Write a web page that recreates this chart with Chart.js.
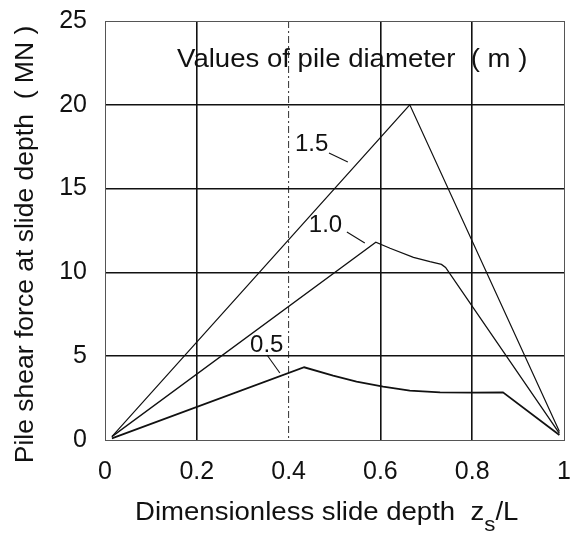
<!DOCTYPE html>
<html>
<head>
<meta charset="utf-8">
<script src="https://cdn.jsdelivr.net/npm/chart.js@4/dist/chart.umd.min.js"></script>
<style>
  html, body { margin: 0; padding: 0; background: #fff; }
  #wrap { width: 572px; height: 536px; }
</style>
</head>
<body>
<div id="wrap"><canvas id="c" width="572" height="536"></canvas></div>
<script>
// Pile diameters (m) and the shear force curves read along dimensionless slide depth
const diameters = ['1.5', '1.0', '0.5'];

const depth15 = [0.015, 0.664, 0.99];
const force15 = [0.2, 20.0, 0.5];

const depth10 = [0.015, 0.59, 0.621, 0.672, 0.708, 0.733, 0.742, 0.99];
const force10 = [0.2, 11.8, 11.44, 10.9, 10.64, 10.48, 10.3, 0.4];

const depth05 = [0.015, 0.434, 0.497, 0.548, 0.606, 0.664, 0.73, 0.80, 0.867, 0.99];
const force05 = [0.1, 4.34, 3.84, 3.48, 3.18, 2.94, 2.84, 2.83, 2.84, 0.3];

const xTicks = [0, 0.2, 0.4, 0.6, 0.8, 1];
const xTickLabels = ['0', '0.2', '0.4', '0.6', '0.8', '1'];
const yTickLabels = ['0', '5', '10', '15', '20', '25'];

const FONT = '"Liberation Sans", Arial, Helvetica, sans-serif';

function pts(xs, ys) { return xs.map((x, i) => ({ x: x, y: ys[i] })); }

// Curve labels with short leader lines, in data units
const curveLabels = [
  { text: diameters[0], at: [0.414, 17.24], lead: [[0.488, 17.12], [0.529, 16.59]] },
  { text: diameters[1], at: [0.444, 12.41], lead: [[0.527, 12.41], [0.566, 11.75]] },
  { text: diameters[2], at: [0.316, 5.25],  lead: [[0.353, 5.07],  [0.381, 4.0]] }
];

// horizontal text slightly widened, like the typeset figure
function wideText(ctx, str, x, y, sx) {
  ctx.save();
  ctx.translate(x, y);
  ctx.scale(sx, 1);
  ctx.fillText(str, 0, 0);
  ctx.restore();
  return ctx.measureText(str).width * sx;
}

const textPlugin = {
  id: 'textPlugin',
  afterDatasetsDraw(chart) {
    const { ctx, chartArea, scales } = chart;
    const xs = scales.x, ys = scales.y;
    ctx.save();
    ctx.fillStyle = '#111';
    ctx.strokeStyle = '#111';
    ctx.textAlign = 'left';
    ctx.textBaseline = 'alphabetic';

    // legend heading inside the plot
    ctx.font = '26px ' + FONT;
    wideText(ctx, 'Values of pile diameter  ( m )', xs.getPixelForValue(0.157), ys.getPixelForValue(22.26), 1.06);

    // curve labels
    ctx.font = '24px ' + FONT;
    ctx.lineWidth = 1.1;
    curveLabels.forEach(l => {
      ctx.fillText(l.text, xs.getPixelForValue(l.at[0]), ys.getPixelForValue(l.at[1]));
      ctx.beginPath();
      ctx.moveTo(xs.getPixelForValue(l.lead[0][0]), ys.getPixelForValue(l.lead[0][1]));
      ctx.lineTo(xs.getPixelForValue(l.lead[1][0]), ys.getPixelForValue(l.lead[1][1]));
      ctx.stroke();
    });

    // y axis title
    ctx.save();
    ctx.font = '26.5px ' + FONT;
    ctx.translate(chartArea.left - 79, (chartArea.top + chartArea.bottom) / 2 + 14);
    ctx.rotate(-Math.PI / 2);
    ctx.textAlign = 'center';
    ctx.textBaseline = 'middle';
    ctx.fillText('Pile shear force at slide depth  ( MN )', 0, 0);
    ctx.restore();

    // x axis title with subscript
    let x = chartArea.left + 30;
    const base = chartArea.bottom + 80;
    ctx.font = '26px ' + FONT;
    x += wideText(ctx, 'Dimensionless slide depth  z', x, base, 1.06);
    ctx.font = '21px ' + FONT;
    x += wideText(ctx, 's', x, base + 11, 1.06);
    ctx.font = '26px ' + FONT;
    wideText(ctx, '/L', x, base, 1.06);
    ctx.restore();
  }
};

const isEdge = v => v === 0 || v === 1 || v === 25;

new Chart(document.getElementById('c'), {
  type: 'line',
  data: {
    datasets: [
      { label: diameters[0], data: pts(depth15, force15), borderColor: '#111', borderWidth: 1.2 },
      { label: diameters[1], data: pts(depth10, force10), borderColor: '#111', borderWidth: 1.3 },
      { label: diameters[2], data: pts(depth05, force05), borderColor: '#111', borderWidth: 1.8 }
    ]
  },
  options: {
    responsive: false,
    animation: false,
    devicePixelRatio: 1,
    layout: { padding: { left: 0, right: 8, top: 21, bottom: 0 } },
    elements: { point: { radius: 0 }, line: { tension: 0, fill: false } },
    plugins: { legend: { display: false }, tooltip: { enabled: false } },
    scales: {
      x: {
        type: 'linear',
        min: 0, max: 1,
        afterBuildTicks: s => { s.ticks = xTicks.map(v => ({ value: v })); },
        afterFit: s => { s.height = 96; s.paddingLeft = 0; s.paddingRight = 0; },
        ticks: {
          padding: 17,
          color: '#111',
          font: { family: FONT, size: 25 },
          callback: (v) => xTickLabels[xTicks.indexOf(v)] ?? ''
        },
        grid: {
          drawTicks: false,
          color: c => (c.tick && c.tick.value === 0.4) ? '#444' : (c.tick && isEdge(c.tick.value) ? '#555' : '#111'),
          lineWidth: c => (c.tick && c.tick.value === 0.4) ? 1.1 : (c.tick && isEdge(c.tick.value) ? 1 : 1.6)
        },
        border: {
          display: true, color: '#555', width: 1,
          dash: c => (c.tick && c.tick.value === 0.4) ? [7, 3, 2, 3] : []
        }
      },
      y: {
        type: 'linear',
        min: 0, max: 25,
        afterBuildTicks: s => { s.ticks = yTickLabels.map(t => ({ value: Number(t) })); },
        afterFit: s => { s.width = 105; s.paddingTop = 0; s.paddingBottom = 0; },
        ticks: {
          padding: 18,
          color: '#111',
          font: { family: FONT, size: 25 },
          callback: (v) => yTickLabels[yTickLabels.indexOf(String(v))] ?? ''
        },
        grid: {
          drawTicks: false,
          color: c => (c.tick && isEdge(c.tick.value)) ? '#555' : '#111',
          lineWidth: c => (c.tick && isEdge(c.tick.value)) ? 1 : 1.6
        },
        border: { display: true, color: '#555', width: 1 }
      }
    }
  },
  plugins: [textPlugin]
});
</script>
</body>
</html>
